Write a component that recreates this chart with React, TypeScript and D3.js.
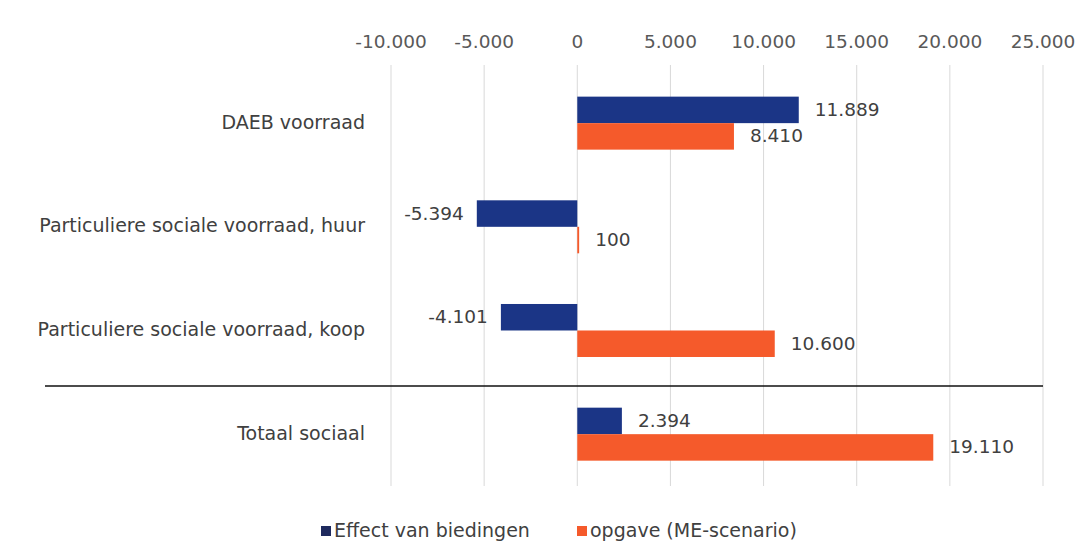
import React from "react";
import * as d3 from "d3";

const categories = [
  "DAEB voorraad",
  "Particuliere sociale voorraad, huur",
  "Particuliere sociale voorraad, koop",
  "Totaal sociaal",
];
const seriesNames = ["Effect van biedingen", "opgave (ME-scenario)"];
const effectValues = [11889, -5394, -4101, 2394];
const opgaveValues = [8410, 100, 10600, 19110];
const tickValues = [-10000, -5000, 0, 5000, 10000, 15000, 20000, 25000];
const seriesColors = ["#1b3586", "#f55a2b"];
const legendColors = ["#1f2a5e", "#f55a2b"];

const W = 1079;
const H = 548;

const nl = d3.formatLocale({
  decimal: ",",
  thousands: ".",
  grouping: [3],
  currency: ["€", ""],
  minus: "-",
});
const fmt = nl.format(",");

export default function App() {
  const x = d3.scaleLinear().domain([-10000, 25000]).range([391, 1043]);
  const y = d3.scaleBand().domain(categories).range([71.3, 486]).padding(0);
  const bw = y.bandwidth();
  const groupH = 53;
  const sub = d3
    .scaleBand()
    .domain(seriesNames)
    .range([(bw - groupH) / 2, (bw + groupH) / 2])
    .padding(0);
  const seriesData = [effectValues, opgaveValues];
  const font = "'DejaVu Sans', sans-serif";
  const fs = 18.5;

  return (
    <div style={{ position: "absolute", left: 0, top: 0 }}>
      <svg width={W} height={H} style={{ display: "block", background: "#fff" }}>
        {/* gridlines */}
        {tickValues.map((t) => (
          <line
            key={"g" + t}
            x1={x(t)}
            x2={x(t)}
            y1={65}
            y2={486}
            stroke="#d9d9d9"
            strokeWidth={1}
          />
        ))}
        {/* tick labels */}
        {tickValues.map((t) => (
          <text
            key={"t" + t}
            x={x(t)}
            y={43}
            textAnchor="middle"
            dominantBaseline="middle"
            fontFamily={font}
            fontSize={fs}
            fill="#595959"
          >
            {fmt(t)}
          </text>
        ))}
        {/* separator */}
        <line x1={45} x2={1043} y1={386} y2={386} stroke="#111" strokeWidth={1.3} />
        {/* bars */}
        {categories.map((c, i) =>
          seriesNames.map((s, j) => {
            const v = seriesData[j][i];
            const y0 = (y(c) as number) + (sub(s) as number);
            const h = sub.bandwidth();
            const x0 = Math.min(x(0), x(v));
            const wdt = Math.max(Math.abs(x(v) - x(0)), 1.5);
            const labelX = v >= 0 ? x(v) + 16 : x(v) - 13;
            return (
              <g key={c + s}>
                <rect x={x0} y={y0} width={wdt} height={h} fill={seriesColors[j]} />
                <text
                  x={labelX}
                  y={y0 + h / 2 + 1}
                  textAnchor={v >= 0 ? "start" : "end"}
                  dominantBaseline="middle"
                  fontFamily={font}
                  fontSize={fs}
                  fill="#404040"
                >
                  {fmt(v)}
                </text>
              </g>
            );
          })
        )}
        {/* category labels */}
        {categories.map((c) => (
          <text
            key={"c" + c}
            x={365}
            y={(y(c) as number) + bw / 2}
            textAnchor="end"
            dominantBaseline="middle"
            fontFamily={font}
            fontSize={fs + 0.5}
            fill="#404040"
          >
            {c}
          </text>
        ))}
        {/* legend */}
        {seriesNames.map((s, j) => {
          const lx = j === 0 ? 321 : 577;
          return (
            <g key={"l" + s}>
              <rect x={lx} y={526} width={10} height={10} fill={legendColors[j]} />
              <text
                x={lx + 13}
                y={531}
                dominantBaseline="middle"
                fontFamily={font}
                fontSize={fs + 0.5}
                fill="#404040"
              >
                {s}
              </text>
            </g>
          );
        })}
      </svg>
    </div>
  );
}
